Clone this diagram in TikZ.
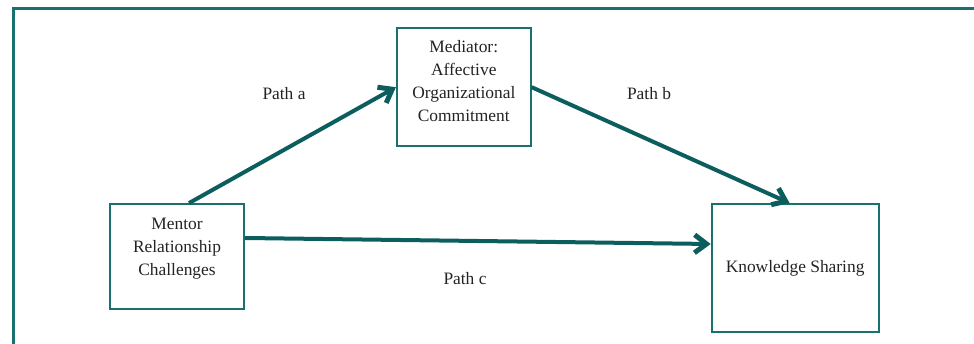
\documentclass[tikz,border=0pt]{standalone}
\usepackage{xcolor}
\usepackage{fontspec}
\setmainfont{Liberation Serif}
\usepackage{tikz}
\usetikzlibrary{arrows.meta}
\usetikzlibrary{positioning}
\definecolor{framecol}{RGB}{24,112,112}
\definecolor{pathcol}{RGB}{12,94,94}
\definecolor{textcol}{RGB}{35,35,35}
\tikzstyle{varbox} = [rectangle, draw=framecol, line width=1.8pt, inner sep=0pt, text centered, text=textcol]
\tikzstyle{arrow} = [line width=4pt, draw=pathcol, -{Straight Barb[length=12pt, width=18pt, line width=5pt]}]
\tikzstyle{pathlabel} = [text=textcol, inner sep=1pt]
\newcommand{\toptext}[3]{\parbox[c][#1][t]{#2}{\centering #3}}

\begin{document}
\begin{tikzpicture}[x=1pt, y=1pt, every node/.style={font=\fontsize{17.4pt}{23pt}\selectfont}]
\useasboundingbox (0,0) rectangle (974,344);
% outer frame (only left and top edges show)
\draw [framecol, line width=3pt] (13.5,-5) -- (13.5,335.5) -- (980,335.5);

\node (mentor) [varbox, minimum width=134pt, minimum height=105pt] at (177,87.5)
  {\toptext{76pt}{120pt}{Mentor\\Relationship\\Challenges}};
\node (mediator) [varbox, minimum width=134pt, minimum height=118pt, above right=56pt and 151pt of mentor]
  {\toptext{93pt}{124pt}{Mediator:\\Affective\\Organizational\\Commitment}};
\node (knowledge) [varbox, minimum width=167pt, minimum height=128pt, below right=56pt and 179pt of mediator]
  {Knowledge Sharing};

\node (patha) [pathlabel] at (284,250) {Path a};
\node (pathb) [pathlabel] at (649,250) {Path b};
\node (pathc) [pathlabel] at (465,65) {Path c};

\draw [arrow] ([xshift=12pt]mentor.north) -- (mediator.west);
\draw [arrow] (mediator.east) -- ([xshift=-5.5pt]knowledge.north);
\draw [arrow] ([yshift=18.5pt]mentor.east) -- ([yshift=24pt]knowledge.west);
\end{tikzpicture}
\end{document}
